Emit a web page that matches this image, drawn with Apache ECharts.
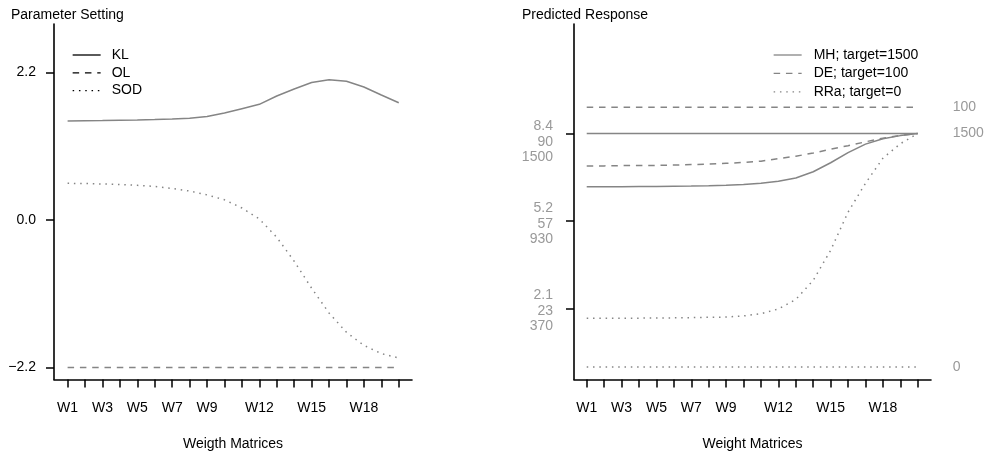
<!DOCTYPE html>
<html><head><meta charset="utf-8">
<script src="https://cdn.jsdelivr.net/npm/echarts@6/dist/echarts.min.js"></script>
<style>html,body{margin:0;padding:0;background:#fff}#c{width:988px;height:456px}</style>
</head><body><div id="c"></div>
<script>
// ---------- data ----------
const categories = ['W1','W2','W3','W4','W5','W6','W7','W8','W9','W10','W11','W12','W13','W14','W15','W16','W17','W18','W19','W20'];
const shownLabels = ['W1','W3','W5','W7','W9','W12','W15','W18'];

// left panel: parameter setting
const klValues  = [1.476,1.479,1.482,1.487,1.491,1.497,1.506,1.518,1.545,1.596,1.660,1.725,1.849,1.954,2.051,2.092,2.069,1.984,1.864,1.749];
const olValues  = [-2.2,-2.2,-2.2,-2.2,-2.2,-2.2,-2.2,-2.2,-2.2,-2.2,-2.2,-2.2,-2.2,-2.2,-2.2,-2.2,-2.2,-2.2,-2.2,-2.2];
const sodValues = [0.547,0.544,0.537,0.529,0.517,0.500,0.470,0.432,0.374,0.301,0.179,0.015,-0.258,-0.615,-1.017,-1.387,-1.676,-1.870,-1.993,-2.058];
const leftTicks = [-2.2, 0, 2.2];
const leftTickLabels = ['\u22122.2', '0.0', '2.2'];

// right panel: predicted response (each in its own units)
const mhValues  = [1156,1156,1157,1158,1158,1160,1161,1163,1166,1171,1179,1192,1213,1253,1311,1376,1431,1466,1486,1500];
const deValues  = [77.6,77.6,77.7,77.7,77.8,77.9,78.1,78.3,78.6,78.9,79.4,80.4,81.3,82.5,84.0,85.3,86.8,88.2,89.2,90.0];
const rraValues = [1.76,1.76,1.76,1.76,1.77,1.77,1.78,1.79,1.80,1.84,1.92,2.09,2.43,3.12,4.20,5.57,6.61,7.51,8.03,8.40];
const mhTicks  = [370, 930, 1500];
const deTicks  = [23, 57, 90];
const rraTicks = [2.1, 5.2, 8.4];
const mhTarget = 1500, deTarget = 100, rraTarget = 0;

// ---------- helpers ----------
const FONT = "'Liberation Sans', Arial, Helvetica, sans-serif";
const GRAY = '#858585';
const DASH = [6.5, 5.8];
const DOT = [1.5, 4.8];
const norm = (v, t) => 1 + 2 * (v - t[0]) / (t[2] - t[0]);
const xy = (arr) => categories.map((c, i) => [i + 1, arr[i]]);
const xyN = (arr, t) => categories.map((c, i) => [i + 1, norm(arr[i], t)]);
const tickIdx = categories.map((c, i) => i + 1);
const labelIdx = shownLabels.map(s => categories.indexOf(s) + 1);

function xAxisOf(grid, min, max, name) {
  return {
    type: 'value', gridIndex: grid, min: min, max: max,
    axisLine: { show: true, onZero: false, lineStyle: { color: '#000', width: 1.6 } },
    axisTick: { show: true, customValues: tickIdx, length: 8, inside: false, lineStyle: { color: '#000', width: 1.5 } },
    axisLabel: { show: true, customValues: labelIdx, formatter: v => categories[Math.round(v) - 1], margin: 22, color: '#000', fontSize: 14, fontFamily: FONT },
    splitLine: { show: false },
    name: name, nameLocation: 'middle', nameGap: 58,
    nameTextStyle: { color: '#000', fontSize: 14, fontFamily: FONT }
  };
}

const chart = echarts.init(document.getElementById('c'), null, { renderer: 'canvas' });
chart.setOption({
  animation: false,
  backgroundColor: '#fff',
  textStyle: { fontFamily: FONT },
  title: [
    { text: 'Parameter Setting', left: 11, top: 8, padding: 0, textStyle: { fontSize: 14, fontWeight: 'normal', color: '#000', fontFamily: FONT } },
    { text: 'Predicted Response', left: 522, top: 8, padding: 0, textStyle: { fontSize: 14, fontWeight: 'normal', color: '#000', fontFamily: FONT } }
  ],
  legend: [
    { data: ['KL', 'OL', 'SOD'], orient: 'vertical', left: 72, top: 48, padding: 0,
      itemWidth: 28, itemHeight: 14, itemGap: 3.8, selectedMode: false,
      lineStyle: { color: '#000', width: 1.3 },
      itemStyle: { color: 'rgba(0,0,0,0)', borderColor: 'rgba(0,0,0,0)', borderWidth: 0 },
      textStyle: { fontSize: 14, color: '#000', fontFamily: FONT, padding: [0, 0, 0, 6] } },
    { data: ['MH; target=1500', 'DE; target=100', 'RRa; target=0'], orient: 'vertical', left: 773, top: 48, padding: 0,
      itemWidth: 28, itemHeight: 14, itemGap: 4.4, selectedMode: false,
      lineStyle: { color: GRAY, width: 1.3 },
      itemStyle: { color: 'rgba(0,0,0,0)', borderColor: 'rgba(0,0,0,0)', borderWidth: 0 },
      textStyle: { fontSize: 14, color: '#000', fontFamily: FONT, padding: [0, 0, 0, 7] } }
  ],
  grid: [
    { left: 54, top: 24, width: 358, bottom: 76.5, containLabel: false, outerBoundsMode: 'none' },
    { left: 574, top: 24, width: 357, bottom: 76.5, containLabel: false, outerBoundsMode: 'none' }
  ],
  xAxis: [
    xAxisOf(0, 0.22, 20.76, 'Weigth Matrices'),
    xAxisOf(1, 0.27, 20.76, 'Weight Matrices')
  ],
  yAxis: [
    { type: 'value', gridIndex: 0, min: -2.379, max: 2.923,
      axisLine: { show: true, onZero: false, lineStyle: { color: '#000', width: 1.6 } },
      axisTick: { show: true, customValues: leftTicks, length: 8, lineStyle: { color: '#000', width: 1.5 } },
      axisLabel: { customValues: leftTicks, formatter: v => leftTickLabels[leftTicks.findIndex(t => Math.abs(t - v) < 1e-6)], margin: 18, color: '#000', fontSize: 14, fontFamily: FONT },
      splitLine: { show: false } },
    { type: 'value', gridIndex: 1, min: 0.192, max: 4.249,
      axisLine: { show: true, onZero: false, lineStyle: { color: '#000', width: 1.6 } },
      axisTick: { show: true, customValues: [1, 2, 3], length: 8, lineStyle: { color: '#000', width: 1.5 } },
      axisLabel: { customValues: [1, 2, 3], margin: 21, color: '#999', fontSize: 14, fontFamily: FONT,
        formatter: v => {
          const i = Math.round(v) - 1;
          const sp = i === 2 ? 's1' : (i === 1 ? 's2' : 's3');
          return '{' + sp + '| }\n{n|' + rraTicks[i] + '}\n{n|' + deTicks[i] + '}\n{n|' + mhTicks[i] + '}';
        },
        rich: {
          n: { fontSize: 14, lineHeight: 15.5, color: '#999', fontFamily: FONT },
          s1: { fontSize: 2, lineHeight: 17 },
          s2: { fontSize: 2, lineHeight: 6 },
          s3: { fontSize: 2, lineHeight: 4 }
        } },
      splitLine: { show: false } }
  ],
  series: [
    { name: 'KL', type: 'line', xAxisIndex: 0, yAxisIndex: 0, data: xy(klValues), symbol: 'none',
      lineStyle: { color: GRAY, width: 1.5, type: 'solid' }, itemStyle: { color: GRAY } },
    { name: 'OL', type: 'line', xAxisIndex: 0, yAxisIndex: 0, data: xy(olValues), symbol: 'none',
      lineStyle: { color: GRAY, width: 1.5, type: DASH }, itemStyle: { color: GRAY } },
    { name: 'SOD', type: 'line', xAxisIndex: 0, yAxisIndex: 0, data: xy(sodValues), symbol: 'none',
      lineStyle: { color: GRAY, width: 1.5, type: DOT }, itemStyle: { color: GRAY } },

    { name: 'MH; target=1500', type: 'line', xAxisIndex: 1, yAxisIndex: 1, data: xyN(mhValues, mhTicks), symbol: 'none',
      lineStyle: { color: GRAY, width: 1.5, type: 'solid' }, itemStyle: { color: GRAY } },
    { name: 'DE; target=100', type: 'line', xAxisIndex: 1, yAxisIndex: 1, data: xyN(deValues, deTicks), symbol: 'none',
      lineStyle: { color: GRAY, width: 1.5, type: DASH }, itemStyle: { color: GRAY } },
    { name: 'RRa; target=0', type: 'line', xAxisIndex: 1, yAxisIndex: 1, data: xyN(rraValues, rraTicks), symbol: 'none',
      lineStyle: { color: GRAY, width: 1.5, type: DOT }, itemStyle: { color: GRAY } },

    { name: 'MH; target=1500', type: 'line', xAxisIndex: 1, yAxisIndex: 1, data: xyN(categories.map(() => mhTarget), mhTicks), symbol: 'none',
      lineStyle: { color: GRAY, width: 1.5, type: 'solid' }, itemStyle: { color: GRAY },
      endLabel: { show: true, formatter: String(mhTarget), distance: 35, color: '#999', fontSize: 14, fontFamily: FONT } },
    { name: 'DE; target=100', type: 'line', xAxisIndex: 1, yAxisIndex: 1, data: xyN(categories.map(() => deTarget), deTicks), symbol: 'none',
      lineStyle: { color: GRAY, width: 1.5, type: DASH }, itemStyle: { color: GRAY },
      endLabel: { show: true, formatter: String(deTarget), distance: 35, color: '#999', fontSize: 14, fontFamily: FONT } },
    { name: 'RRa; target=0', type: 'line', xAxisIndex: 1, yAxisIndex: 1, data: xyN(categories.map(() => rraTarget), rraTicks), symbol: 'none',
      lineStyle: { color: GRAY, width: 1.5, type: DOT }, itemStyle: { color: GRAY },
      endLabel: { show: true, formatter: String(rraTarget), distance: 35, color: '#999', fontSize: 14, fontFamily: FONT } }
  ]
});
</script></body></html>
